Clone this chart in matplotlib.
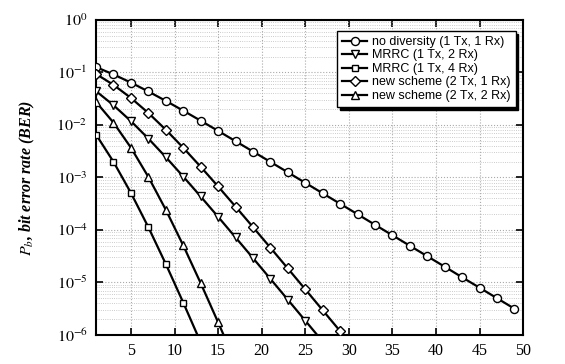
import matplotlib
matplotlib.use("Agg")
import matplotlib.pyplot as plt
from matplotlib.ticker import LogLocator, FixedLocator, NullFormatter, FixedFormatter

snr = [1, 3, 5, 7, 9, 11, 13, 15, 17, 19, 21, 23, 25, 27, 29, 31, 33, 35, 37, 39, 41, 43, 45, 47, 49]

ber_1x1 = [0.1267, 0.0919, 0.0642, 0.0435, 0.0288, 0.01875, 0.01207, 0.00772, 0.00491, 0.00312,
           0.00198, 0.001253, 0.00079, 0.000499, 0.000315, 0.000199, 0.0001253, 7.91e-5, 4.99e-5,
           3.15e-5, 1.99e-5, 1.25e-5, 7.91e-6, 4.99e-6, 3.15e-6]
ber_mrrc2 = [0.0441, 0.02379, 0.01184, 0.00551, 0.00244, 0.001042, 4.335e-4, 1.779e-4, 7.21e-5,
             2.914e-5, 1.17e-5, 4.68e-6, 1.87e-6, 7.45e-7]
ber_mrrc4 = [6.556e-3, 1.987e-3, 5.08e-4, 1.127e-4, 2.245e-5, 4.134e-6, 7.21e-7]
ber_new21 = [0.0937, 0.05806, 0.03275, 0.01693, 0.00813, 0.003682, 0.0015993, 6.74e-4, 2.784e-4,
             1.135e-4, 4.586e-5, 1.844e-5, 7.39e-6, 2.95e-6, 1.18e-6, 4.71e-7]
ber_new22 = [0.02742, 0.0111, 3.695e-3, 1.024e-3, 2.426e-4, 5.074e-5, 9.70e-6, 1.738e-6, 2.99e-7]

series = [
    ("no diversity (1 Tx, 1 Rx)", ber_1x1, "o"),
    ("MRRC (1 Tx, 2 Rx)", ber_mrrc2, "v"),
    ("MRRC (1 Tx, 4 Rx)", ber_mrrc4, "s"),
    ("new scheme (2 Tx, 1 Rx)", ber_new21, "D"),
    ("new scheme (2 Tx, 2 Rx)", ber_new22, "^"),
]

x_ticks = [5, 10, 15, 20, 25, 30, 35, 40, 45, 50]
y_ticks = [1e-6, 1e-5, 1e-4, 1e-3, 1e-2, 1e-1, 1e0]
y_labels = [r'$10^{-6}$', r'$10^{-5}$', r'$10^{-4}$', r'$10^{-3}$', r'$10^{-2}$', r'$10^{-1}$', r'$10^{0}$']

plt.rcParams['font.family'] = ['Liberation Serif', 'DejaVu Serif']
plt.rcParams['mathtext.fontset'] = 'stix'

fig = plt.figure(figsize=(5.65, 3.64), dpi=100)
ax = fig.add_axes([0.170, 0.080, 0.756, 0.865])

msz = {"o": 5.8, "v": 6.0, "s": 5.0, "D": 4.6, "^": 6.0}
for label, ys, m in series:
    ax.plot(snr[:len(ys)], ys, color='black', lw=1.6, marker=m, ms=msz[m],
            mfc='white', mec='black', mew=1.0, label=label, clip_on=True, zorder=3)

ax.set_yscale('log')
ax.set_xlim(1, 50)
ax.set_ylim(1e-6, 1)
ax.xaxis.set_major_locator(FixedLocator(x_ticks))
ax.yaxis.set_major_locator(FixedLocator(y_ticks))
ax.yaxis.set_major_formatter(FixedFormatter(y_labels))
ax.yaxis.set_minor_locator(LogLocator(base=10, subs=range(2, 10), numticks=100))
ax.yaxis.set_minor_formatter(NullFormatter())

ax.grid(True, which='major', axis='both', color='#aaaaaa', ls=':', lw=0.8)
ax.grid(True, which='minor', axis='y', color='#bbbbbb', ls=':', lw=0.6)

ax.tick_params(axis='both', which='major', direction='in', length=5, width=1.2,
               top=True, right=True, labelsize=11.5, pad=6)
ax.tick_params(axis='y', which='minor', length=0)
for sp in ax.spines.values():
    sp.set_linewidth(1.5)

ax.set_ylabel(r'$\boldsymbol{P_b}$, bit error rate (BER)', fontsize=11.5,
              fontweight='bold', style='italic', labelpad=14)

leg = ax.legend(loc='upper right', bbox_to_anchor=(0.997, 0.985),
                prop={'family': 'Liberation Sans', 'size': 9},
                frameon=True, fancybox=False, shadow={'color': 'black', 'alpha': 1.0},
                handlelength=2.0, handletextpad=0.4, borderpad=0.4, labelspacing=0.12,
                edgecolor='black', framealpha=1.0)
leg.get_frame().set_linewidth(1.0)

fig.savefig('out.png', dpi=100)
